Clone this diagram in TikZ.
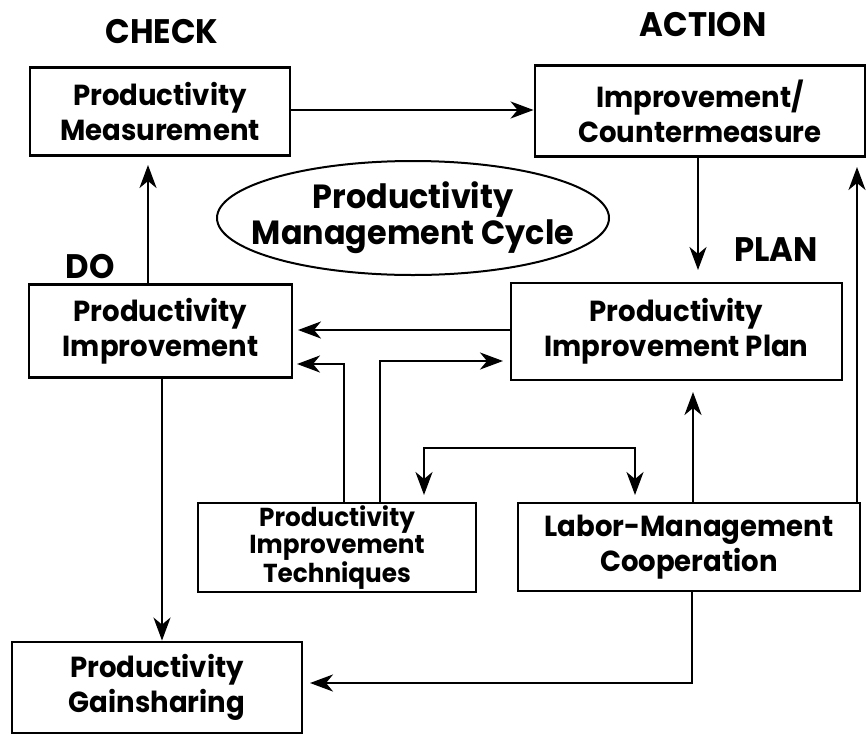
\documentclass[tikz,border=0pt]{standalone}
\usepackage{fontspec}
\setmainfont{Poppins}[FakeStretch=0.95]
\usetikzlibrary{arrows.meta,shapes.geometric}
\tikzset{
  box/.style={draw, line width=2.9pt, rectangle, align=center, inner sep=0pt,
    font=\fontsize{29}{35}\selectfont\bfseries},
  lbl/.style={font=\fontsize{34}{36}\selectfont\bfseries, inner sep=0pt},
  tip/.style={Stealth[length=23pt,width=17pt,inset=7pt]},
  conn/.style={line width=2.6pt, -{Stealth[length=23pt,width=17pt,inset=7pt]}},
  conn2/.style={line width=2.6pt, {Stealth[length=23pt,width=17pt,inset=7pt]}-{Stealth[length=23pt,width=17pt,inset=7pt]}},
}
\begin{document}
\begin{tikzpicture}[x=1pt,y=-1pt]
\useasboundingbox (0,0) rectangle (866,734);
% labels
\node[lbl] (check) at (162,32) {CHECK};
\node[lbl] (action) at (703,25) {ACTION};
\node[lbl] (do) at (90,267) {DO};
\node[lbl] (plan) at (776,250) {PLAN};
% boxes
\node[box, minimum width=260pt, minimum height=88pt] (pm) at (160,111.5) {Productivity\\Measurement};
\node[box, minimum width=330pt, minimum height=91pt] (ic) at (700,111) {Improvement/\\Countermeasure};
\node[draw, ellipse, line width=2pt, minimum width=392pt, minimum height=114pt, inner xsep=-50pt, inner ysep=-18pt, align=center,
  font=\fontsize{33.5}{36}\selectfont\bfseries] (cyc) at (413,218) {Productivity\\Management Cycle};
\node[box, minimum width=263pt, minimum height=93pt] (pi) at (160.5,331) {Productivity\\Improvement};
\node[box, minimum width=331pt, minimum height=97pt] (pip) at (676.5,331.5) {Productivity\\Improvement Plan};
\node[box, minimum width=278pt, minimum height=89pt, font=\fontsize{26}{27}\selectfont\bfseries] (pit) at (337,547.5) {Productivity\\Improvement\\Techniques};
\node[box, minimum width=342pt, minimum height=88pt] (lmc) at (689,547) {Labor-Management\\Cooperation};
\node[box, minimum width=290pt, minimum height=91pt] (pg) at (157,687.5) {Productivity\\Gainsharing};
% helper coordinates
\coordinate (a1) at (298,110);
\coordinate (a2) at (698,270);
\coordinate (a3) at (148,165);
\coordinate (a4) at (298,330);
\coordinate (a5) at (310,683);
\coordinate (a6) at (693,392);
\coordinate (a7) at (857,167);
\coordinate (t1) at (344,364);
\coordinate (t1e) at (297,364);
\coordinate (t2) at (380,361);
\coordinate (t2e) at (503,361);
\coordinate (dl) at (424,495);
\coordinate (dr) at (635,495);
% connectors
\draw[conn] (pm.east |- a1) -- (ic.west |- a1);
\draw[conn] (ic.south -| a2) -- (a2);
\draw[conn] (pi.north -| a3) -- (a3);
\draw[conn] (pip.west |- a4) -- (a4);
\draw[conn] (pi.south -| 162,0) -- (pg.north -| 162,0);
\draw[conn] (lmc.south -| 692,0) |- (a5);
\draw[conn] (lmc.north -| a6) -- (a6);
\draw[conn] (lmc.north -| a7) -- (a7);
\draw[conn] (pit.north -| t1) |- (t1e);
\draw[conn] (pit.north -| t2) |- (t2e);
\draw[conn2] (dl) |- (530,448) -| (dr);
\end{tikzpicture}
\end{document}
